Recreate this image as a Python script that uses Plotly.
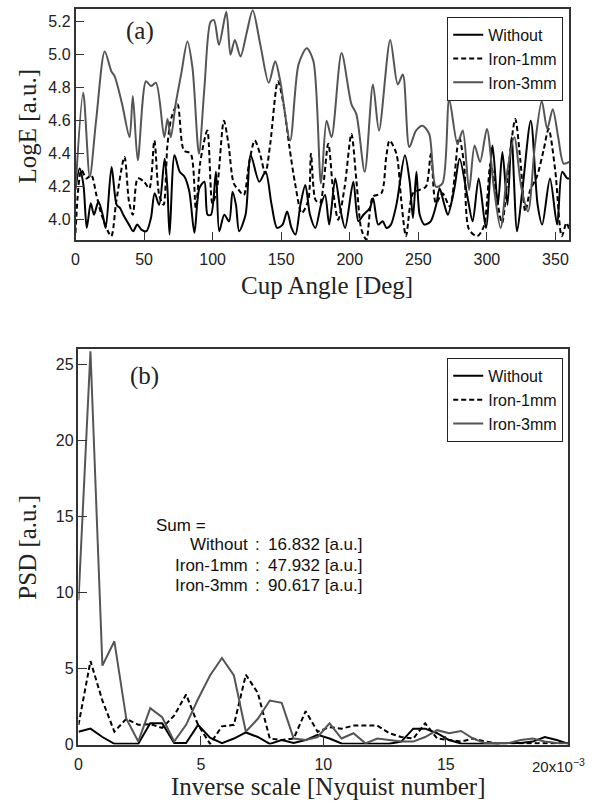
import plotly.graph_objects as go

# ---------------- (a) LogE vs cup angle ----------------
angle_without = [0, 3, 5.8, 8.2, 11.1, 13.5, 16.7, 19.8, 22, 26.3, 30, 32.5, 34.8, 39, 42, 45, 48, 51.7, 55, 57.7,
                 61, 65, 67, 68.6, 72.2, 76, 79.5, 83, 86.7, 90.3, 94, 96.3, 98.8, 102.4, 104.8, 108.5, 112, 114.5, 117, 119.3,
                 124, 127.8, 134, 138.6, 143, 147, 151, 154.3, 157.5, 160.4, 164, 167.6, 171, 174.9, 179, 182, 185, 189.4, 193, 196.6,
                 202.6, 206.3, 210, 214.7, 217, 220.7, 224, 226.8, 230, 234, 240.2, 243.7, 246.1, 248.6, 251, 254.6, 259, 263, 265.5, 269,
                 271.5, 276.3, 280.1, 286, 289.6, 294, 299.3, 304.1, 308, 311.3, 315, 318, 322, 326, 332, 337, 340.3, 346, 351.2, 354.9,
                 358.6, 360]
loge_without = [4.19, 4.31, 4.21, 3.95, 4.10, 4.03, 4.11, 4.03, 3.95, 4.32, 4.09, 4.07, 4.03, 3.97, 3.93, 3.97, 3.94, 3.93, 4.01, 4.16,
                4.09, 4.37, 4.19, 3.91, 4.39, 4.29, 4.26, 4.17, 3.92, 4.19, 4.23, 4.03, 4.03, 4.29, 3.93, 4.03, 3.99, 4.17, 4.09, 3.93,
                4.03, 4.39, 4.23, 4.29, 4.09, 3.95, 3.97, 4.05, 3.95, 3.91, 4.09, 4.21, 4.03, 3.95, 4.09, 4.15, 3.97, 4.25, 4.07, 3.95,
                4.23, 3.99, 4.03, 4.07, 4.13, 3.97, 3.99, 3.95, 3.97, 4.09, 4.39, 4.23, 4.01, 4.29, 4.03, 3.97, 3.99, 4.09, 4.19, 4.09,
                4.03, 4.19, 4.37, 4.13, 3.99, 4.25, 3.95, 4.45, 4.09, 4.41, 4.09, 4.50, 3.93, 4.19, 4.60, 4.09, 3.97, 4.25, 3.97, 4.29,
                4.25, 4.25]

angle_iron1 = [0, 4.3, 8, 11.5, 15.2, 19, 26, 29.7, 35.7, 39, 41.8, 45.4, 50, 53.8, 57.5, 61, 64.2, 67, 70, 74.4,
               79, 84, 87.7, 91, 96.1, 99.8, 103, 108.2, 111.5, 115.4, 119, 122.7, 126.5, 130.7, 134.5, 138.4, 142, 147.6, 151.7, 156,
               160.1, 165, 169.8, 171.7, 175, 178.2, 184.3, 187.8, 191.5, 196.3, 201.2, 204.8, 208.5, 212.1, 216.9, 223, 226.6, 229, 234, 237.5,
               241, 246, 250.7, 255.5, 259.2, 262.8, 267.6, 273, 279.7, 283.3, 287, 293, 297.8, 302.7, 306.3, 311, 316, 320.7, 324.4, 328,
               331.6, 336.4, 341.3, 345, 349.8, 354.6, 358, 360]
loge_iron1 = [3.92, 4.30, 4.25, 4.27, 4.15, 4.03, 3.90, 4.11, 4.38, 4.11, 4.03, 4.25, 4.23, 4.19, 4.48, 4.15, 4.09, 4.45, 4.62, 4.70,
              4.42, 4.40, 4.07, 4.35, 4.54, 4.10, 4.18, 4.60, 4.46, 4.22, 4.18, 4.15, 4.34, 4.48, 4.40, 4.28, 4.46, 4.84, 4.70, 4.44,
              4.22, 4.04, 4.12, 4.40, 4.12, 4.10, 4.46, 4.18, 4.00, 4.20, 4.52, 4.24, 3.94, 3.88, 4.14, 4.16, 4.38, 4.48, 4.40, 4.12,
              3.90, 4.16, 4.18, 4.20, 4.40, 4.10, 4.16, 4.08, 4.50, 4.34, 3.94, 3.90, 3.96, 4.34, 4.18, 3.98, 4.34, 4.61, 4.36, 4.05,
              4.18, 4.26, 4.42, 4.55, 4.30, 3.90, 3.98, 3.94]

angle_iron3 = [0, 5.6, 10.4, 15, 21.3, 26.1, 28.5, 34, 39.4, 41.8, 45.4, 51.4, 55, 58.7, 64.7, 67.1, 69.5, 73, 77, 81.6,
               85.3, 90, 94, 98.5, 101, 104.6, 110, 113, 116.2, 120.3, 125, 129.2, 134.8, 140.9, 145.6, 149.3, 156.5, 162.6, 168.6, 173.5,
               179, 183.1, 186.7, 194, 201.2, 204.8, 210.9, 216.9, 221.3, 229.5, 235, 238.7, 243.4, 248.3, 253.1, 257.9, 262.8, 267.6, 272.5, 278.5,
               282.4, 287, 291, 295, 300, 305, 310, 315, 320, 325, 330, 335, 340, 344, 348, 352, 356, 360]
loge_iron3 = [4.18, 4.77, 4.26, 4.60, 5.02, 4.90, 4.87, 4.70, 4.50, 4.75, 4.36, 4.84, 4.81, 4.83, 4.50, 4.61, 4.50, 4.70, 4.88, 5.08,
              4.92, 4.40, 4.80, 5.20, 5.21, 5.06, 5.26, 5.00, 5.09, 4.99, 5.14, 5.27, 5.06, 4.83, 4.96, 4.84, 4.48, 4.94, 5.04, 4.96,
              4.22, 4.60, 4.50, 5.01, 4.70, 4.64, 4.29, 4.82, 4.54, 5.09, 4.82, 4.88, 4.44, 4.54, 4.57, 4.52, 4.20, 4.22, 4.73, 4.46,
              4.54, 4.18, 4.45, 4.35, 4.55, 4.20, 3.95, 4.30, 4.50, 4.20, 4.05, 4.45, 4.72, 4.55, 4.67, 4.50, 4.34, 4.35]

# ---------------- (b) PSD vs inverse scale ----------------
inv_scale = [round(i * 0.48828, 4) for i in range(42)]  # x10^-3, Nyquist-number bins
psd_without = [0.85, 1.05, 0.5, 0.05, 0.05, 0.05, 1.4, 1.4, 0.1, 0.1, 1.3, 0.45, 0.1, 0.4, 0.8, 0.5, 0.05, 0.3, 0.1, 0.3,
               0.65, 0.4, 0.08, 0.08, 0.08, 0.05, 0.05, 0.2, 1.05, 1.05, 0.75, 0.3, 0.08, 0.05, 0.05, 0.05, 0.1, 0.1, 0.2, 0.5,
               0.3, 0.05]
psd_iron1 = [1.3, 5.5, 2.9, 0.85, 1.7, 1.3, 1.35, 1.1, 1.9, 3.3, 1.3, 0.05, 1.2, 1.3, 4.6, 3.4, 0.4, 0.3, 0.4, 2.2,
             0.85, 1.15, 1.05, 1.25, 1.25, 1.25, 0.75, 0.5, 0.4, 1.4, 0.4, 0.3, 0.2, 0.4, 0.2, 0.08, 0.08, 0.1, 0.1, 0.1,
             0.1, 0.1]
psd_iron3 = [9.5, 25.9, 5.2, 6.8, 1.7, 0.2, 2.4, 1.8, 0.2, 1.3, 3.0, 4.55, 5.7, 4.55, 0.85, 1.7, 2.9, 2.75, 0.4, 0.3,
             0.5, 1.4, 0.4, 0.75, 0.08, 0.4, 0.3, 0.2, 0.2, 0.5, 0.95, 0.75, 0.9, 0.4, 0.1, 0.08, 0.1, 0.3, 0.4, 0.2,
             0.1, 0.08]

series_names = ["Without", "Iron-1mm", "Iron-3mm"]
sum_values = ["16.832", "47.932", "90.617"]

x_ticks_a = [0, 50, 100, 150, 200, 250, 300, 350]
y_ticks_a = [4.0, 4.2, 4.4, 4.6, 4.8, 5.0, 5.2]
x_ticks_b = [0, 5, 10, 15, 20]
x_ticktext_b = ["0", "5", "10", "15", ""]
last_tick_label = "20x10<sup>−3</sup>"
y_ticks_b = [0, 5, 10, 15, 20, 25]

W, H = 596, 807
def px(x): return x / W
def py(y): return 1 - y / H

styles = [dict(color="#000000", width=2),
          dict(color="#000000", width=2, dash="5px,3px"),
          dict(color="#555555", width=2)]

fig = go.Figure()
top_data = [(angle_without, loge_without), (angle_iron1, loge_iron1), (angle_iron3, loge_iron3)]
for (xs, ys), name, st in zip(top_data, series_names, styles):
    fig.add_trace(go.Scatter(x=xs, y=ys, mode="lines", name=name, line=dict(shape="spline", smoothing=0.8, **st),
                             xaxis="x", yaxis="y", legend="legend"))
bot_data = [psd_without, psd_iron1, psd_iron3]
for ys, name, st in zip(bot_data, series_names, styles):
    fig.add_trace(go.Scatter(x=inv_scale, y=ys, mode="lines", name=name, line=st,
                             xaxis="x2", yaxis="y2", legend="legend2", cliponaxis=True))

tickfont = dict(family="Liberation Sans, Arial, sans-serif", size=16, color="#222")
axis_common = dict(showline=True, linecolor="#333", linewidth=1.5, mirror=True, ticks="inside",
                   ticklen=9, tickwidth=1.2, tickcolor="#333", showgrid=False, zeroline=False,
                   tickfont=tickfont)

legfont = dict(family="Liberation Sans, Arial", size=16, color="#111")
fig.update_layout(
    width=W, height=H, margin=dict(l=0, r=0, t=0, b=0),
    paper_bgcolor="white", plot_bgcolor="white",
    xaxis=dict(domain=[px(72), px(569)], range=[0, 360], tickvals=x_ticks_a, anchor="y",
               ticklabelstandoff=4, **axis_common),
    yaxis=dict(domain=[py(243), py(9)], range=[3.875, 5.278], tickvals=y_ticks_a, tickformat=".1f",
               anchor="x", **axis_common),
    xaxis2=dict(domain=[px(75), px(568)], range=[0, 20], tickvals=x_ticks_b, ticktext=x_ticktext_b,
                anchor="y2", ticklabelstandoff=4, **axis_common),
    yaxis2=dict(domain=[py(753), py(353)], range=[0, 26.04], tickvals=y_ticks_b, anchor="x2", **axis_common),
    legend=dict(x=px(563), y=py(17), xanchor="right", yanchor="top", bgcolor="white",
                bordercolor="#222", borderwidth=1, font=legfont, tracegroupgap=0, itemwidth=30),
    legend2=dict(x=px(563), y=py(362), xanchor="right", yanchor="top", bgcolor="white",
                 bordercolor="#222", borderwidth=1, font=legfont, tracegroupgap=0, itemwidth=30),
    showlegend=True,
)

serif = dict(family="Liberation Serif, Times New Roman, serif", size=25, color="#222")
ann = [
    dict(text="Cup Angle [Deg]", x=px(325), y=py(289), font=serif),
    dict(text="Inverse scale [Nyquist number]", x=px(326), y=py(795), font=serif),
    dict(text="LogE [a.u.]", x=px(24), y=py(127), font=serif, textangle=-90),
    dict(text="PSD [a.u.]", x=px(24), y=py(553), font=serif, textangle=-90),
    dict(text="(a)", x=px(137), y=py(31), font=serif),
    dict(text="(b)", x=px(141), y=py(380), font=serif),
]
for a in ann:
    fig.add_annotation(xref="paper", yref="paper", showarrow=False, xanchor="center", yanchor="middle",
                       borderpad=0, **a)

# label of the last x tick of panel (b), drawn left-shifted as in the original
fig.add_annotation(xref="x2", yref="paper", x=x_ticks_b[-1], y=py(774), xanchor="right", xshift=18,
                   yanchor="middle", showarrow=False, text=last_tick_label, borderpad=0,
                   font=dict(family="Liberation Sans, Arial, sans-serif", size=15, color="#222"))

sfont = dict(family="Liberation Sans, Arial, sans-serif", size=17, color="#111")
fig.add_annotation(xref="paper", yref="paper", showarrow=False, x=px(151), y=py(531), xanchor="left",
                   yanchor="middle", text="Sum =", font=sfont)
for i, (nm, val) in enumerate(zip(series_names, sum_values)):
    yy = 551 + i * 20.5
    fig.add_annotation(xref="paper", yref="paper", showarrow=False, x=px(248), y=py(yy), xanchor="right",
                       yanchor="middle", text=nm, font=sfont)
    fig.add_annotation(xref="paper", yref="paper", showarrow=False, x=px(255), y=py(yy), xanchor="center",
                       yanchor="middle", text=":", font=sfont)
    fig.add_annotation(xref="paper", yref="paper", showarrow=False, x=px(264), y=py(yy), xanchor="left",
                       yanchor="middle", text=val + " [a.u.]", font=sfont)

fig.write_html("out.html")
